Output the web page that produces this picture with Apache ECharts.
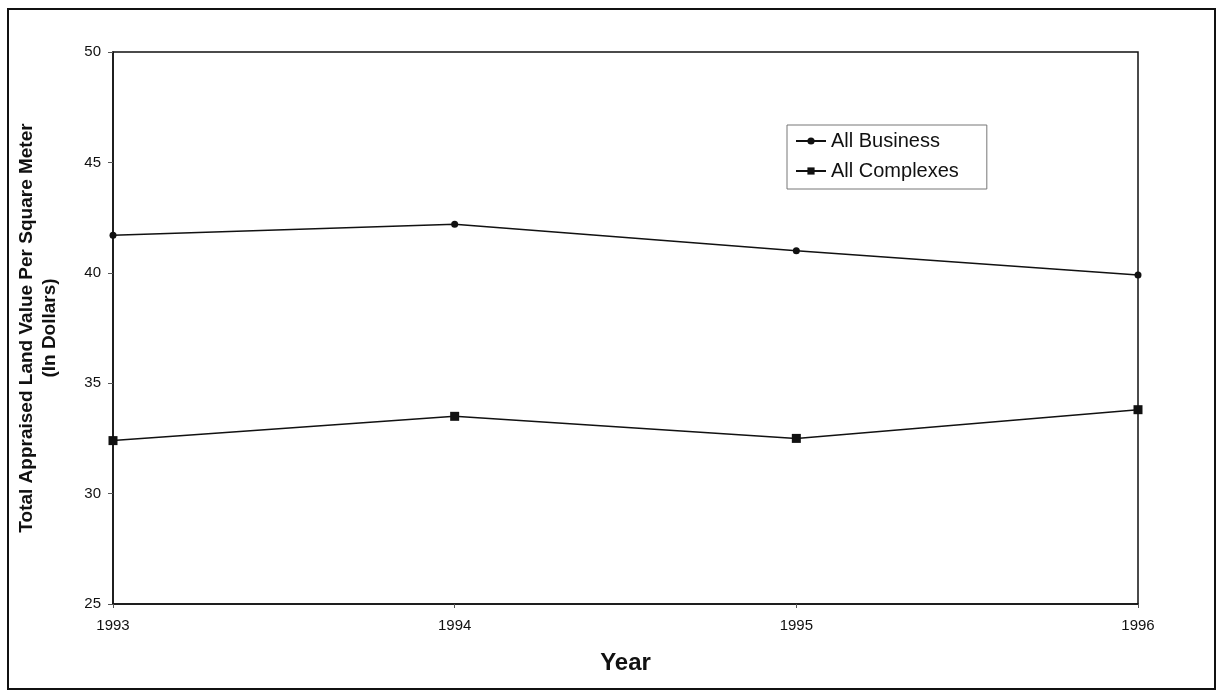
<!DOCTYPE html>
<html>
<head>
<meta charset="utf-8">
<script src="https://cdn.jsdelivr.net/npm/echarts@6/dist/echarts.min.js"></script>
<style>
  html, body { margin: 0; padding: 0; background: #fff; }
  #frame { position: absolute; left: 7px; top: 8px; width: 1209px; height: 682px;
           border: 2px solid #111; box-sizing: border-box; }
  #chart { position: absolute; left: 0; top: 0; width: 1224px; height: 694px; }
</style>
</head>
<body>
<div id="frame"></div>
<div id="chart"></div>
<script>
// Land value per square meter, 1993-1996
const years = ['1993', '1994', '1995', '1996'];
const allBusiness = [41.7, 42.2, 41.0, 39.9];
const allComplexes = [32.4, 33.5, 32.5, 33.8];
const yTicks = { min: 25, max: 50, interval: 5 };

const FONT = '"Liberation Sans", Arial, sans-serif';
const chart = echarts.init(document.getElementById('chart'), null, { renderer: 'canvas' });

chart.setOption({
  backgroundColor: 'transparent',
  animation: false,
  textStyle: { fontFamily: FONT, color: '#111' },
  grid: {
    left: 113, right: 86, top: 52, bottom: 90,
    show: true, borderColor: '#111', borderWidth: 1.5, backgroundColor: 'transparent'
  },
  legend: {
    orient: 'vertical',
    left: 787, top: 125,
    itemWidth: 30, itemHeight: 9, itemGap: 10,
    padding: [6, 28, 8, 8],
    borderColor: '#777', borderWidth: 1,
    textStyle: { fontFamily: FONT, fontSize: 20, color: '#111' },
    data: ['All Business', 'All Complexes']
  },
  xAxis: {
    type: 'category',
    data: years,
    boundaryGap: false,
    axisLine: { lineStyle: { color: '#111', width: 1.5 } },
    axisTick: { show: true, length: 4, alignWithLabel: true, lineStyle: { color: '#555' } },
    axisLabel: { fontFamily: FONT, fontSize: 15, color: '#111', margin: 14 },
    name: 'Year',
    nameLocation: 'middle',
    nameGap: 47,
    nameTextStyle: { fontFamily: FONT, fontSize: 24, fontWeight: 'bold', color: '#111' },
    splitLine: { show: false }
  },
  yAxis: {
    type: 'value',
    min: yTicks.min, max: yTicks.max, interval: yTicks.interval,
    axisLine: { show: true, lineStyle: { color: '#111', width: 1.5 } },
    axisTick: { show: true, length: 5, lineStyle: { color: '#555' } },
    axisLabel: { fontFamily: FONT, fontSize: 15, color: '#111', margin: 12 },
    splitLine: { show: false },
    name: 'Total Appraised Land Value Per Square Meter\n(In Dollars)',
    nameLocation: 'middle',
    nameRotate: 90,
    nameGap: 52,
    nameTextStyle: { fontFamily: FONT, fontSize: 19, fontWeight: 'bold', color: '#111', lineHeight: 23 }
  },
  series: [
    {
      name: 'All Business',
      type: 'line',
      data: allBusiness,
      symbol: 'circle',
      symbolSize: 7,
      lineStyle: { color: '#111', width: 1.5 },
      itemStyle: { color: '#111' }
    },
    {
      name: 'All Complexes',
      type: 'line',
      data: allComplexes,
      symbol: 'rect',
      symbolSize: 9,
      lineStyle: { color: '#111', width: 1.5 },
      itemStyle: { color: '#111' }
    }
  ]
});
</script>
</body>
</html>
